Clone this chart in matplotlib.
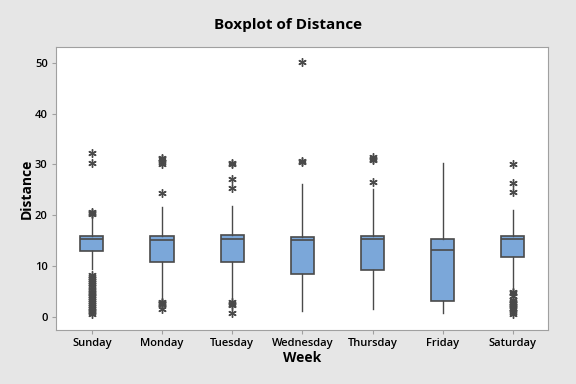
import numpy as np
import matplotlib.pyplot as plt

plt.rcParams['font.family'] = ['Open Sans', 'DejaVu Sans']

days = ['Sunday', 'Monday', 'Tuesday', 'Wednesday', 'Thursday', 'Friday', 'Saturday']
q1 = [13.0, 10.8, 10.8, 8.4, 9.2, 3.1, 11.7]
med = [15.4, 15.2, 15.3, 15.2, 15.4, 13.1, 15.3]
q3 = [15.9, 15.9, 16.1, 15.7, 15.9, 15.3, 15.9]
whis_lo = [9.5, 3.5, 3.0, 1.2, 1.6, 0.85, 5.6]
whis_hi = [19.7, 21.6, 21.8, 26.2, 25.1, 30.2, 21.1]
outliers = [
    [20.2, 20.4, 20.6, 30.2, 32.3,
     8.2, 7.8, 7.5, 7.0, 6.6, 6.2, 5.8, 5.4, 5.0, 4.7, 4.4, 4.0, 3.6,
     3.2, 2.8, 2.4, 2.0, 1.6, 1.2, 1.0, 0.6],
    [24.3, 30.0, 30.5, 31.0, 31.3, 3.0, 2.8, 2.6, 2.5, 1.6],
    [30.0, 30.3, 27.1, 25.3, 2.9, 2.6, 2.3, 0.85],
    [30.4, 30.6, 50.1],
    [26.6, 30.8, 31.1, 31.5],
    [],
    [30.1, 26.4, 24.5, 5.0, 4.7, 4.2, 3.3, 3.0, 2.8, 2.5, 2.2, 1.8, 1.5, 1.0, 0.5],
]

stats = []
for i, d in enumerate(days):
    stats.append(dict(label=d, q1=q1[i], med=med[i], q3=q3[i],
                      whislo=whis_lo[i], whishi=whis_hi[i], fliers=outliers[i]))

edge = '#4a4a4a'
fig = plt.figure(figsize=(5.76, 3.84), dpi=100, facecolor='#e6e6e6')
ax = fig.add_axes([56 / 576, 1 - 330 / 384, 492 / 576, 283 / 384])

ax.bxp(stats, positions=np.arange(1, 8), widths=0.33, patch_artist=True,
       showcaps=False,
       boxprops=dict(facecolor='#7ba7d9', edgecolor=edge, linewidth=1.2),
       medianprops=dict(color=edge, linewidth=1.2),
       whiskerprops=dict(color=edge, linewidth=1),
       flierprops=dict(marker=(6, 2, 0), markeredgecolor=edge, markersize=6,
                       markeredgewidth=1))

ax.set_xlim(0.49, 7.5)
ax.set_ylim(-2.56, 53.1)
ax.set_yticks([0, 10, 20, 30, 40, 50])
for s in ax.spines.values():
    s.set_color('#a0a0a0')
ax.tick_params(colors='#a0a0a0', labelcolor='black', labelsize=8, length=3, pad=3)
ax.set_xticklabels(days)
for lbl in ax.get_xticklabels() + ax.get_yticklabels():
    lbl.set_fontweight('semibold')
ax.set_xlabel('Week', fontsize=10, fontweight='bold', labelpad=1)
ax.set_ylabel('Distance', fontsize=10, fontweight='bold', labelpad=1)
fig.text(0.5, 1 - 25 / 384, 'Boxplot of Distance', ha='center', va='center',
         fontsize=11, fontweight='bold')

fig.savefig('out.png', dpi=100, facecolor=fig.get_facecolor())
